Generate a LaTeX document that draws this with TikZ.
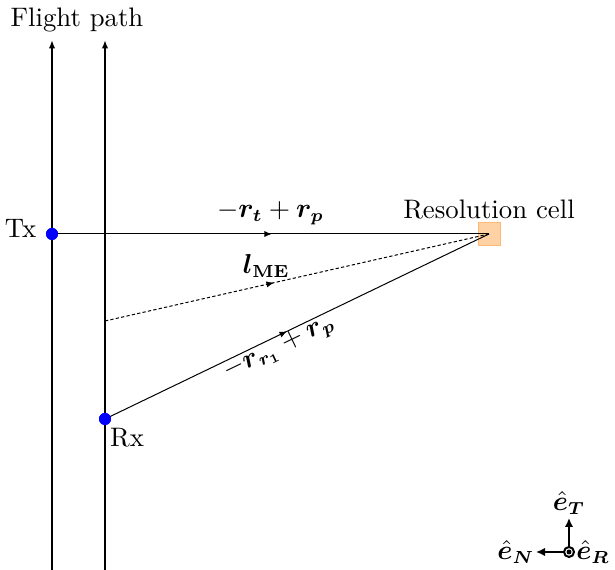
\documentclass[tikz,border=0pt]{standalone}
\usepackage{amsmath}
\usepackage{bm}
\usetikzlibrary{arrows.meta,decorations.markings}
\tikzset{
  every node/.style={font=\fontsize{10.7pt}{13pt}\selectfont},
  track/.style={thick,-{Latex[length=3.4pt,width=2.6pt]}},
  dotnode/.style={circle,fill=blue,inner sep=0pt,minimum size=4.8pt},
  cellbox/.style={draw=orange!55,fill=orange!35,inner sep=0pt,minimum width=8.8pt,minimum height=9pt},
  midarrow/.style={postaction={decorate},decoration={markings,mark=at position #1 with {\arrow{Latex[length=3pt,width=2.5pt]}}}},
  dotline/.style={dash pattern=on 1.3pt off 0.9pt},
  axarrow/.style={thick,-{Latex[length=3.6pt,width=3.4pt]}},
  lbl/.style={inner sep=1pt}
}
\begin{document}
\begin{tikzpicture}[x=0.4pt,y=-0.4pt]
\useasboundingbox (0,0) rectangle (615,570);
% flight paths
\coordinate (b1) at (52,571);
\coordinate (t1) at (52,40);
\coordinate (b2) at (105,571);
\coordinate (t2) at (105,40);
\draw[track] (b1) -- (t1);
\draw[track] (b2) -- (t2);
\node (fp) at (77,20) {Flight path};
% cell
\node[cellbox] (cell) at (489,234) {};
\node (celllbl) at (489,210) {Resolution cell};
% Tx, Rx
\node[dotnode] (tx) at (52,234) {};
\node[dotnode] (rx) at (105,419) {};
\coordinate (me) at (105,321);
\draw[midarrow=0.503] (tx.center) -- (cell.center)
  node[pos=0.5,above] (lt) {$-\bm{r}_{\bm{t}}+\bm{r}_{\bm{p}}$};
\draw[dotline,midarrow=0.44] (me) -- (cell.center)
  node[pos=0.42,above,inner sep=2.5pt] (lme) {$\bm{l}_{\mathbf{ME}}$};
\draw[midarrow=0.474] (rx.center) -- (cell.center)
  node[pos=0.44,sloped,anchor=north,inner sep=0pt] (lr) {$-\bm{r}_{\bm{r_1}}+\bm{r}_{\bm{p}}$};
\node[dotnode] at (tx) {};
\node[dotnode] at (rx) {};
\node[anchor=east] (txl) at (45,228) {Tx};
\node (rxl) at (127,438) {Rx};
% axes
\node[circle,draw,thick,inner sep=0pt,minimum size=4pt] (od) at (569,552) {};
\fill (od.center) circle (1pt);
\coordinate (tipT) at (569,518);
\coordinate (tipN) at (536,552);
\draw[axarrow] (od) -- (tipT);
\draw[axarrow] (od) -- (tipN);
\node[anchor=south,lbl] (eT) at (tipT) {$\hat{\bm{e}}_{\bm{T}}$};
\node[anchor=east,lbl,inner sep=0.5pt] (eN) at (tipN) {$\hat{\bm{e}}_{\bm{N}}$};
\node[anchor=west,lbl,inner sep=0.3pt] (eR) at (od.east) {$\hat{\bm{e}}_{\bm{R}}$};
\end{tikzpicture}
\end{document}
